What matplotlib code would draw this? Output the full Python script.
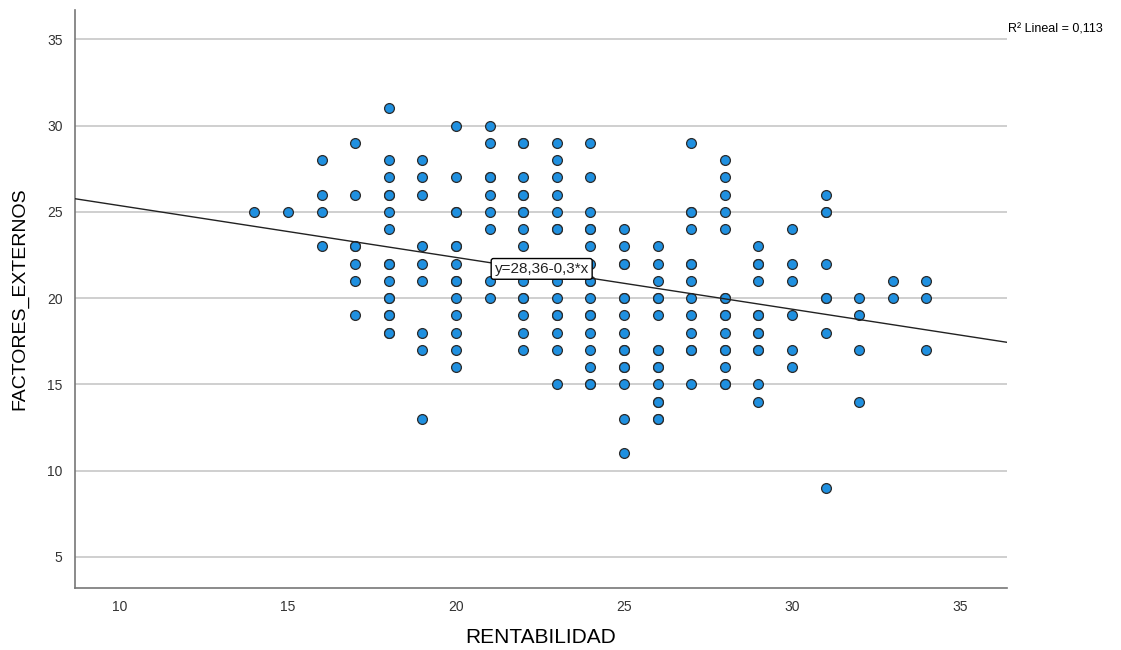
import matplotlib
matplotlib.use("Agg")
import matplotlib.pyplot as plt

# RENTABILIDAD values (x) and FACTORES_EXTERNOS values observed at each x
# (repeated values = overlapping respondents)
rentabilidad_niveles = [14, 15, 16, 17, 18, 19, 20, 21, 22, 23, 24,
                        25, 26, 27, 28, 29, 30, 31, 32, 33, 34]
factores_14 = [25]
factores_15 = [25]
factores_16 = [28, 26, 25, 23]
factores_17 = [29, 26, 23, 23, 22, 21, 19]
factores_18 = [31, 28, 27, 26, 26, 25, 24, 22, 22, 21, 20, 20, 19, 19, 18, 18]
factores_19 = [28, 27, 26, 23, 22, 21, 18, 17, 13]
factores_20 = [30, 27, 25, 25, 23, 23, 22, 21, 21, 20, 19, 18, 17, 16]
factores_21 = [30, 29, 27, 27, 26, 25, 24, 21, 20]
factores_22 = [29, 29, 27, 26, 26, 25, 25, 24, 23, 22, 21, 20, 20, 19, 18, 17]
factores_23 = [29, 28, 27, 26, 25, 24, 24, 22, 21, 20, 19, 19, 18, 17, 15]
factores_24 = [29, 27, 25, 24, 24, 23, 22, 21, 21, 20, 19, 19, 18, 17, 16, 15, 15]
factores_25 = [24, 23, 22, 22, 20, 20, 19, 18, 17, 17, 16, 16, 15, 13, 11]
factores_26 = [23, 22, 21, 20, 20, 19, 17, 17, 16, 16, 15, 14, 14, 13, 13]
factores_27 = [29, 25, 25, 24, 22, 22, 21, 20, 19, 18, 17, 17, 15]
factores_28 = [28, 27, 26, 25, 24, 20, 20, 19, 19, 18, 17, 17, 16, 15, 15]
factores_29 = [23, 22, 22, 21, 19, 19, 18, 18, 17, 17, 15, 14]
factores_30 = [24, 22, 21, 19, 17, 16]
factores_31 = [26, 25, 25, 22, 20, 20, 18, 9]
factores_32 = [20, 19, 17, 14]
factores_33 = [21, 20]
factores_34 = [21, 20, 17]

columnas = [factores_14, factores_15, factores_16, factores_17, factores_18,
            factores_19, factores_20, factores_21, factores_22, factores_23,
            factores_24, factores_25, factores_26, factores_27, factores_28,
            factores_29, factores_30, factores_31, factores_32, factores_33,
            factores_34]

# fitted line reported by SPSS
intercepto = 28.36
pendiente = -0.3
r2_texto = "R\u00b2 Lineal = 0,113"
eq_texto = "y=28,36-0,3*x"

x = []
y = []
for nivel, col in zip(rentabilidad_niveles, columnas):
    x += [nivel] * len(col)
    y += col

plt.rcParams['font.family'] = ['Liberation Sans', 'DejaVu Sans']

fig = plt.figure(figsize=(11.21, 6.5), dpi=100)
ax = fig.add_axes([0.0669, 0.0954, 0.8314, 0.8892])

xmin, xmax = 8.66, 36.4
ax.set_xlim(xmin, xmax)
ax.set_ylim(3.2, 36.7)

ax.set_yticks([5, 10, 15, 20, 25, 30, 35])
ax.set_xticks([10, 15, 20, 25, 30, 35])
ax.yaxis.grid(True, color='#cccccc', linewidth=1.3)
ax.set_axisbelow(True)

ax.scatter(x, y, s=50, color='#1f90e0', edgecolors='#2a2a2a',
           linewidths=0.9, zorder=3)

ax.plot([xmin, xmax], [intercepto + pendiente * xmin, intercepto + pendiente * xmax],
        color='#222222', linewidth=1.0, zorder=4)

ax.text(22.55, intercepto + pendiente * 22.55 + 0.1, eq_texto, fontsize=11,
        ha='center', va='center', zorder=5, color='#222222',
        bbox=dict(boxstyle='round,pad=0.22,rounding_size=0.15',
                  facecolor='white', edgecolor='black', linewidth=1.0))

fig.text(1008 / 1121, 1 - 30 / 650, r2_texto, fontsize=9, ha='left', va='center')

for side in ['top', 'right']:
    ax.spines[side].set_visible(False)
ax.spines['left'].set_color('#777777')
ax.spines['bottom'].set_color('#777777')
ax.spines['left'].set_linewidth(1.2)
ax.spines['bottom'].set_linewidth(1.2)

ax.tick_params(axis='both', length=0, labelsize=10, colors='#333333')
ax.tick_params(axis='x', pad=9)
ax.tick_params(axis='y', pad=9)

ax.set_xlabel('RENTABILIDAD', fontsize=15, labelpad=10)
ax.set_ylabel('FACTORES_EXTERNOS', fontsize=14, labelpad=13)

fig.savefig('out.png', dpi=100)
